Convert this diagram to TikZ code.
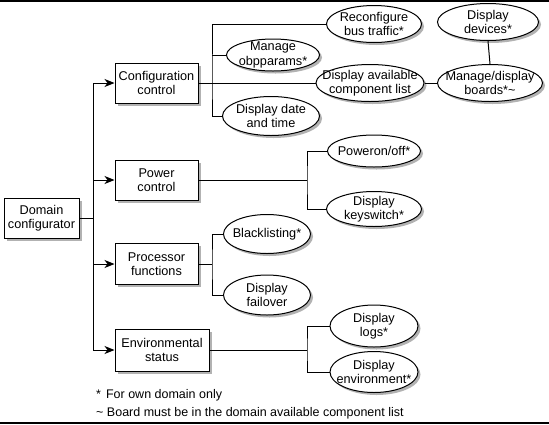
\documentclass[tikz,border=0pt]{standalone}
\usepackage{fontspec}
\setmainfont{Liberation Sans}
\usetikzlibrary{shapes.geometric,shadows,arrows.meta}
\begin{document}
\begin{tikzpicture}[x=1pt,y=-1pt,
  every node/.style={font=\fontsize{12.7}{14.5}\selectfont, align=center, inner sep=0pt},
  shad/.style={drop shadow={shadow xshift=2.5pt,shadow yshift=-2.5pt,fill=black!60,opacity=.5}},
  boxnode/.style={draw, line width=1pt, fill=white, shad, rectangle},
  ovalnode/.style={draw, line width=1pt, fill=white, shad, ellipse, inner sep=-20pt},
  conn/.style={line width=1pt},
  arr/.style={line width=1pt, -{Stealth[length=10pt,width=8pt,inset=3pt]}},
  note/.style={anchor=west, font=\fontsize{12.5}{14}\selectfont}]
\useasboundingbox (0,0) rectangle (549,424);
\draw[line width=1.5pt] (0,0.75) -- (549,0.75);
\draw[line width=2pt] (0,423) -- (549,423);

% boxes
\node[boxnode, minimum width=75pt, minimum height=40pt] (dom) at (41.5,218) {Domain\\configurator};
\node[boxnode, minimum width=83pt, minimum height=40pt] (cfg) at (156.5,83) {Configuration\\control};
\node[boxnode, minimum width=83pt, minimum height=40pt] (pwr) at (156.5,180) {Power\\control};
\node[boxnode, minimum width=83pt, minimum height=41pt] (proc) at (156.5,264) {Processor\\functions};
\node[boxnode, minimum width=94pt, minimum height=42pt] (env) at (162,350) {Environmental\\status};

% ellipses
\node[ovalnode, minimum width=95pt, minimum height=37pt] (recon) at (374,24) {Reconfigure\\bus traffic*};
\node[ovalnode, minimum width=101pt, minimum height=37pt] (dev) at (488,22) {Display\\devices*};
\node[ovalnode, minimum width=93pt, minimum height=32pt] (obp) at (273,55) {Manage\\obpparams*};
\node[ovalnode, minimum width=108pt, minimum height=37pt] (avail) at (370,83) {Display available\\component list};
\node[ovalnode, minimum width=105pt, minimum height=37pt] (mdb) at (490,83) {Manage/display\\boards*\textasciitilde};
\node[ovalnode, minimum width=97pt, minimum height=39pt] (dt) at (271,116) {Display date\\and time};
\node[ovalnode, minimum width=93pt, minimum height=32pt] (pon) at (374,151) {Poweron/off*};
\node[ovalnode, minimum width=95pt, minimum height=35pt] (ksw) at (374,209) {Display\\keyswitch*};
\node[ovalnode, minimum width=87pt, minimum height=39pt] (bl) at (267,234) {Blacklisting*};
\node[ovalnode, minimum width=87pt, minimum height=40pt] (fo) at (267,295) {Display\\failover};
\node[ovalnode, minimum width=88pt, minimum height=42pt] (logs) at (374,326) {Display\\logs*};
\node[ovalnode, minimum width=88pt, minimum height=41pt] (envd) at (374,372) {Display\\environment*};

% junction points
\coordinate (t) at (93,218);
\coordinate (cb) at (212,83);
\coordinate (pb) at (307,180);
\coordinate (prb) at (212,264);
\coordinate (eb) at (307,350);

% trunk
\draw[conn] (dom.east) -- (t);
\draw[conn] (t |- cfg.west) -- (t |- env.west);
\draw[arr] (t |- cfg.west) -- (cfg.west);
\draw[arr] (t |- pwr.west) -- (pwr.west);
\draw[arr] (t |- proc.west) -- (proc.west);
\draw[arr] (t |- env.west) -- (env.west);

% configuration branch
\draw[conn] (cfg.east) -- (avail.west);
\draw[conn] (recon.west) -| (cb) |- (dt.west);
\draw[conn] (obp.west) -- (obp.west -| cb);
\draw[conn] (avail.east) -- (mdb.west);
\draw[conn] (dev.south) -- (mdb.north);

% power branch
\draw[conn] (pwr.east) -- (pb);
\draw[conn] (pon.west) -| (pb) |- (ksw.west);

% processor branch
\draw[conn] (proc.east) -- (prb);
\draw[conn] (bl.west) -| (prb) |- (fo.west);

% environmental branch
\draw[conn] (env.east) -- (eb);
\draw[conn] (logs.west) -| (eb) |- (envd.west);

% notes
\node[note] (n1) at (96,395) {*\hspace{5pt}For own domain only};
\node[note] (n2) at (96,413) {\textasciitilde\ Board must be in the domain available component list};
\end{tikzpicture}
\end{document}
